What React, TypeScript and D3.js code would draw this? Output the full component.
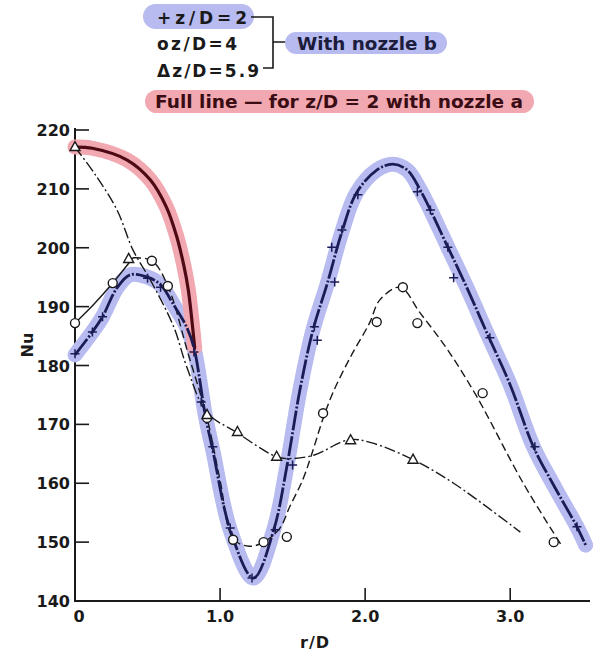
import React from "react";
import * as d3 from "d3";

// ---- data ----
const yTicks = [140, 150, 160, 170, 180, 190, 200, 210, 220];
const xTicks = [0, 1, 2, 3];
const xTickLabels = ["0", "1.0", "2.0", "3.0"];

// z/D = 2, nozzle b : fitted curve and measured points (+)
const curveB2: [number, number][] = [
  [0, 181.8], [0.12, 185.7], [0.19, 188.3], [0.29, 193.2], [0.38, 195.4], [0.5, 195.0],
  [0.59, 193.7], [0.68, 190.3], [0.77, 186.5], [0.82, 183.0], [0.9, 171.3], [0.95, 165.6],
  [1.07, 152.1], [1.23, 143.9], [1.37, 152.1], [1.46, 162.8], [1.55, 175.8], [1.64, 186.0],
  [1.74, 194.0], [1.84, 202.7], [1.94, 209.3], [2.08, 213.2], [2.19, 214.2], [2.29, 213.2],
  [2.38, 209.8], [2.57, 200.1], [2.7, 193.3], [2.84, 185.5], [3.0, 176.7], [3.16, 166.2],
  [3.31, 159.2], [3.46, 152.6], [3.52, 149.5],
];
const pointsB2: [number, number][] = [
  [0, 182], [0.12, 185.7], [0.19, 188.3], [0.5, 194.8], [0.59, 193.3], [0.82, 182.3],
  [0.87, 173.8], [0.95, 166.2], [1.07, 152.4], [1.22, 143.9], [1.38, 152.1], [1.5, 163.1],
  [1.65, 186.6], [1.67, 184.3], [1.77, 200.1], [1.79, 194.2], [1.84, 203.0], [1.95, 209.0],
  [2.36, 209.5], [2.45, 206.4], [2.57, 200.1], [2.61, 194.9], [2.86, 184.7], [3.17, 166.2],
  [3.46, 152.6],
];

// z/D = 4, nozzle b : curve (solid start, dashed rest) and circles
const curveB4Start: [number, number][] = [
  [0, 187.2], [0.13, 190.4], [0.26, 194.0], [0.4, 198.3],
];
const curveB4: [number, number][] = [
  [0.4, 198.3], [0.53, 197.8], [0.64, 193.5],
  [0.78, 182.0], [0.91, 171.1], [1.0, 160.5], [1.09, 150.6], [1.2, 149.3], [1.3, 150.0],
  [1.41, 152.3], [1.48, 156.0], [1.57, 160.6], [1.63, 164.8], [1.71, 171.0], [1.78, 175.5],
  [1.9, 181.5], [2.03, 187.2], [2.1, 191.1], [2.24, 193.3], [2.38, 188.9], [2.57, 182.6],
  [2.77, 174.7], [3.09, 160.0], [3.36, 149.2],
];
const pointsB4: [number, number][] = [
  [0, 187.2], [0.26, 194.0], [0.53, 197.8], [0.64, 193.5], [0.91, 171.1], [1.09, 150.4],
  [1.3, 150.0], [1.46, 150.9], [1.71, 171.9], [2.08, 187.4], [2.26, 193.3], [2.36, 187.2],
  [2.81, 175.3], [3.3, 150.0],
];

// z/D = 5.9, nozzle b : dash-dot curve and triangles
const curveB59: [number, number][] = [
  [0, 217.1], [0.14, 212.4], [0.29, 206.4], [0.4, 199.6], [0.52, 194.5], [0.68, 186.6],
  [0.77, 179.8], [0.91, 172.0], [1.11, 168.7], [1.39, 164.5], [1.5, 164.2], [1.65, 164.8],
  [1.89, 167.4], [2.04, 166.9], [2.33, 164.0], [2.61, 160.0], [3.07, 151.7],
];
const pointsB59: [number, number][] = [
  [0, 217.1], [0.37, 198.1], [0.91, 171.6], [1.12, 168.7], [1.39, 164.5], [1.9, 167.3],
  [2.33, 164.0],
];

// z/D = 2, nozzle a : full line
const curveA2: [number, number][] = [
  [0, 217.1], [0.12, 216.9], [0.36, 214.9], [0.52, 211.5], [0.63, 206.9], [0.7, 202.0],
  [0.75, 197.0], [0.78, 193.0], [0.8, 189.0], [0.815, 185.5], [0.825, 183.0],
];

const W = 597;
const H = 654;
const FONT = "'DejaVu Sans', 'Liberation Sans', sans-serif";
const INK = "#1a1a1a";
const NAVY = "#1b1b55";
const BLUE_HL = "#b7bbf0";
const PINK_HL = "#f2a8b0";
const DARKRED = "#4e0a14";

export default function App() {
  const x = d3.scaleLinear().domain([0, 3.55]).range([75, 590]);
  const y = d3.scaleLinear().domain([140, 220]).range([601, 130]);
  const line = d3
    .line<[number, number]>()
    .x((d) => x(d[0]))
    .y((d) => y(d[1]))
    .curve(d3.curveCatmullRom.alpha(0.5));

  const tri = "M0,-5.5L5,3.5L-5,3.5Z";

  return (
    <svg width={W} height={H} style={{ position: "absolute", left: 0, top: 0, background: "#fff" }}>
      <rect x={0} y={0} width={W} height={H} fill="#fff" />

      {/* legend */}
      <g fontFamily={FONT} fontWeight={700} fontSize={17} fill={INK}>
        <rect x={143} y={4} width={111} height={25} rx={12.5} fill={BLUE_HL} />
        <text x={157} y={24} textLength={90} lengthAdjust="spacing">+z/D=2</text>
        <text x={157} y={50} textLength={80} lengthAdjust="spacing">oz/D=4</text>
        <text x={157} y={77} textLength={102} lengthAdjust="spacing">Δz/D=5.9</text>
        <path d="M251,17H273V68H263M273,42H287" fill="none" stroke={INK} strokeWidth={1.6} />
        <rect x={285} y={32} width={162} height={22} rx={11} fill={BLUE_HL} />
        <text x={297} y={50} textLength={140} lengthAdjust="spacingAndGlyphs" fill="#1c1c3c">With nozzle b</text>
        <rect x={145} y={90} width={389} height={23} rx={11.5} fill={PINK_HL} />
        <text x={155} y={108} textLength={368} lengthAdjust="spacingAndGlyphs" fill="#3a0c14">
          Full line — for z/D = 2 with nozzle a
        </text>
      </g>

      {/* axes */}
      <g stroke={INK} strokeWidth={2} fill="none">
        <line x1={75} y1={128} x2={75} y2={602} />
        <line x1={74} y1={601} x2={590} y2={601} />
        {yTicks.map((t) => (
          <line key={"yt" + t} x1={75} x2={89} y1={y(t)} y2={y(t)} strokeWidth={1.6} />
        ))}
        {xTicks.slice(1).map((t) => (
          <line key={"xt" + t} x1={x(t)} x2={x(t)} y1={601} y2={588} strokeWidth={1.6} />
        ))}
      </g>
      <g fontFamily={FONT} fontWeight={700} fontSize={16} fill={INK}>
        {yTicks.map((t) => (
          <text key={"yl" + t} x={70} y={y(t) + 6} textAnchor="end">
            {t}
          </text>
        ))}
        {xTicks.map((t, i) => (
          <text key={"xl" + t} x={x(t) + (i === 0 ? 4 : 0)} y={622} textAnchor="middle">
            {xTickLabels[i]}
          </text>
        ))}
        <text x={315} y={648} textAnchor="middle" letterSpacing={1}>r/D</text>
        <text transform="translate(33,345) rotate(-90)" textAnchor="middle">Nu</text>
      </g>

      {/* highlights */}
      <path d={line(curveB2) || ""} fill="none" stroke={BLUE_HL} strokeWidth={15} strokeLinecap="round" strokeLinejoin="round" />
      <path d={line(curveA2) || ""} fill="none" stroke={PINK_HL} strokeWidth={15} strokeLinecap="round" strokeLinejoin="round" />

      {/* z/D = 5.9 dash-dot */}
      <path d={line(curveB59) || ""} fill="none" stroke={INK} strokeWidth={1.4} strokeDasharray="11 3 2 3" />
      {/* z/D = 4 */}
      <path d={line(curveB4Start) || ""} fill="none" stroke={INK} strokeWidth={1.4} />
      <path d={line(curveB4) || ""} fill="none" stroke={INK} strokeWidth={1.4} strokeDasharray="8 4" />
      {/* nozzle a full line */}
      <path d={line(curveA2) || ""} fill="none" stroke={DARKRED} strokeWidth={3.2} strokeLinecap="round" />
      {/* z/D = 2 nozzle b */}
      <path d={line(curveB2) || ""} fill="none" stroke={NAVY} strokeWidth={2.8} strokeDasharray="20 2 2 2" strokeLinecap="butt" />

      {/* markers */}
      <g stroke={NAVY} strokeWidth={1.5}>
        {pointsB2.map((d, i) => (
          <path key={"p" + i} d="M-4.5,0H4.5M0,-4.5V4.5" transform={`translate(${x(d[0])},${y(d[1])})`} />
        ))}
      </g>
      <g stroke={INK} strokeWidth={1.4} fill="#fff">
        {pointsB4.map((d, i) => (
          <circle key={"c" + i} cx={x(d[0])} cy={y(d[1])} r={4.5} />
        ))}
        {pointsB59.map((d, i) => (
          <path key={"t" + i} d={tri} transform={`translate(${x(d[0])},${y(d[1])})`} />
        ))}
      </g>
    </svg>
  );
}
